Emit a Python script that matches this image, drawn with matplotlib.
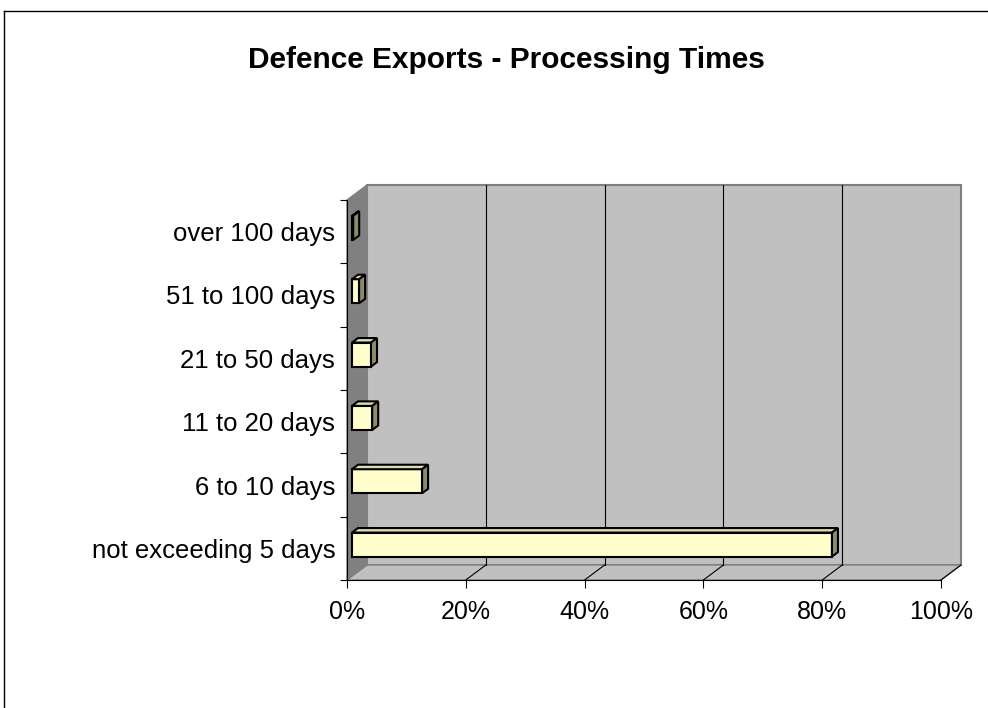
import matplotlib
matplotlib.use("Agg")
import matplotlib.pyplot as plt
from matplotlib.patches import Polygon
from matplotlib.lines import Line2D

categories = ["not exceeding 5 days", "6 to 10 days", "11 to 20 days",
              "21 to 50 days", "51 to 100 days", "over 100 days"]
values = [0.808, 0.118, 0.034, 0.032, 0.012, 0.002]
xticks = [0, 0.2, 0.4, 0.6, 0.8, 1.0]
xticklabels = ["0%", "20%", "40%", "60%", "80%", "100%"]
title = "Defence Exports - Processing Times"

W, H = 988, 708
fig = plt.figure(figsize=(W / 100, H / 100), dpi=100)
plt.rcParams['font.family'] = ['Liberation Sans', 'DejaVu Sans']

# plot-area in pixels (front face of the 3-D box)
x0, x1, yb, yt = 347, 941, 580, 200
ax = fig.add_axes([x0 / W, (H - yb) / H, (x1 - x0) / W, (yb - yt) / H])
n = len(categories)
ax.set_xlim(0, 1)
ax.set_ylim(0, n)
for s in ax.spines.values():
    s.set_visible(False)
ax.patch.set_visible(False)

px_x = 1.0 / (x1 - x0)          # data units per pixel in x
px_y = n / (yb - yt)            # data units per pixel in y
DX, DY = 20 * px_x, 15 * px_y   # depth of the box

gray_wall = "#c0c0c0"
dark_wall = "#808080"
edge_gray = "#808080"

# back wall
ax.add_patch(Polygon([(DX, DY), (1 + DX, DY), (1 + DX, n + DY), (DX, n + DY)],
                     closed=True, facecolor=gray_wall, edgecolor=edge_gray,
                     lw=1.5, clip_on=False, zorder=1))
# left wall
ax.add_patch(Polygon([(0, 0), (DX, DY), (DX, n + DY), (0, n)],
                     closed=True, facecolor=dark_wall, edgecolor=edge_gray,
                     lw=1.0, clip_on=False, zorder=1))
# floor
ax.add_patch(Polygon([(0, 0), (1, 0), (1 + DX, DY), (DX, DY)],
                     closed=True, facecolor=gray_wall, edgecolor=edge_gray,
                     lw=1.0, clip_on=False, zorder=1))

# gridlines on back wall and floor
for t in xticks[1:-1]:
    ax.plot([t + DX, t + DX], [DY, n + DY], color="black", lw=0.8,
            clip_on=False, zorder=2)
for t in xticks[1:]:
    ax.plot([t, t + DX], [0, DY], color="black", lw=0.8, clip_on=False, zorder=2)

# axis lines
ax.plot([0, 1], [0, 0], color="black", lw=0.8, clip_on=False, zorder=3)
ax.plot([0, 0], [0, n], color="black", lw=0.8, clip_on=False, zorder=3)

# bars (3-D)
f = 0.25      # front face depth fraction
d = 0.30      # bar depth fraction
bh = 0.38     # bar height in rows
front_c = "#ffffcc"
top_c = "#dcdcac"
side_c = "#8c8c6c"
fx, fy = f * DX, f * DY
bx, by = d * DX, d * DY
ypos = [i + 0.5 + fy for i in range(n)]
for i in range(n - 1, -1, -1):
    v = values[i]
    yc = ypos[i]
    lo, hi = yc - bh / 2, yc + bh / 2
    left = fx
    right = fx + v
    ax.barh(yc, v, left=left, height=bh, color=front_c, edgecolor="black",
            lw=1.5, zorder=5, clip_on=False)
    ax.add_patch(Polygon([(left, hi), (right, hi), (right + bx, hi + by),
                          (left + bx, hi + by)], closed=True, facecolor=top_c,
                         edgecolor="black", lw=1.5, zorder=5, clip_on=False))
    ax.add_patch(Polygon([(right, lo), (right + bx, lo + by), (right + bx, hi + by),
                          (right, hi)], closed=True, facecolor=side_c,
                         edgecolor="black", lw=1.5, zorder=5, clip_on=False))

# ticks and labels
ax.set_xticks(xticks)
ax.set_xticklabels(xticklabels, fontsize=18)
ax.tick_params(axis="x", direction="out", length=5.8, width=0.8, pad=8.5)
ax.set_yticks([i for i in range(n + 1)], minor=True)
ax.set_yticks([i + 0.5 for i in range(n)])
ax.set_yticklabels(categories, fontsize=18.5)
ax.tick_params(axis="y", which="major", length=0, pad=8.5)
ax.tick_params(axis="y", which="minor", direction="out", length=5, width=0.8)

fig.text(506 / W, 1 - 68 / H, title, ha="center", va="baseline",
         fontsize=21.5, fontweight="bold")

# chart-area border (top and left visible)
fig.add_artist(Line2D([4 / W, 1], [1 - 11 / H, 1 - 11 / H],
                      transform=fig.transFigure, color="black", lw=1))
fig.add_artist(Line2D([4 / W, 4 / W], [0, 1 - 11 / H],
                      transform=fig.transFigure, color="black", lw=1))

fig.savefig("out.png", dpi=100)
